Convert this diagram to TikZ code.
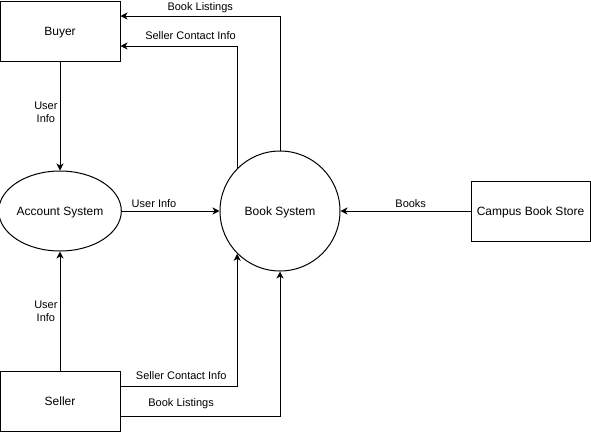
\documentclass[tikz,border=0pt]{standalone}
\usepackage{fontspec}
\setmainfont{Liberation Sans}
\usetikzlibrary{shapes.geometric,arrows.meta,calc}

\tikzset{
	ent/.style={draw, line width=1pt, minimum width=120pt, minimum height=60pt, inner sep=0pt, text depth=0pt, font=\fontsize{12}{14}\selectfont},
	proc/.style={draw, line width=1pt, ellipse, inner sep=0pt, text depth=0pt, font=\fontsize{12}{14}\selectfont},
	flow/.style={line width=1pt, -{Stealth[length=7pt,width=7pt,inset=2pt]}},
	lbl/.style={font=\fontsize{11}{13}\selectfont, inner sep=2pt, align=center}
}

\begin{document}
\begin{tikzpicture}[x=1pt, y=-1pt]
\useasboundingbox (0,0) rectangle (591,432);
\node[ent] (buyer) at (60,31) {Buyer};
\node[ent] (seller) at (60,401) {Seller};
\node[ent, minimum width=119pt] (store) at (530.5,211) {Campus Book Store};
\node[proc, minimum width=120pt, minimum height=80pt] (acct) at (60,211) {Account System};
\node[proc, minimum width=120pt, minimum height=120pt] (book) at (280,211) {Book System};

\draw[flow] (buyer) -- node[lbl, left, yshift=4pt] {User\\Info} (acct);
\draw[flow] (seller) -- node[lbl, left] {User\\Info} (acct);
\draw[flow] (acct) -- node[lbl, above, pos=.33, yshift=1pt] {User Info} (book);
\draw[flow] (store) -- node[lbl, above, pos=.46, yshift=1pt] {Books} (book);

\draw[flow] (book.north) |- node[lbl, above, pos=.75, yshift=1pt] {Book Listings} ($(buyer.east)+(0,-15)$);
\draw[flow] (book.135) |- node[lbl, above, pos=.7, yshift=4pt] {Seller Contact Info} ($(buyer.east)+(0,15)$);
\draw[flow] ($(seller.east)+(0,-15)$) -| node[lbl, above, pos=.26, yshift=4pt] {Seller Contact Info} (book.225);
\draw[flow] ($(seller.east)+(0,15)$) -| node[lbl, above, pos=.19, yshift=5pt] {Book Listings} (book.south);
\end{tikzpicture}
\end{document}
